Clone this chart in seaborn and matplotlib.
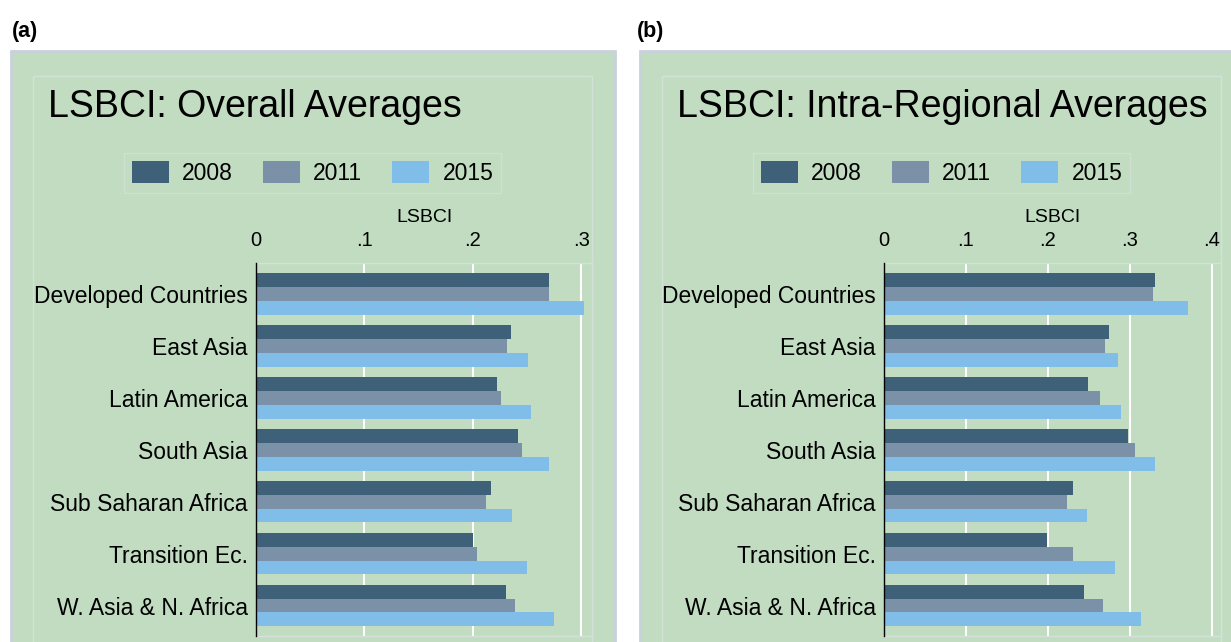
import pandas as pd
import matplotlib
matplotlib.use('Agg')
import matplotlib.pyplot as plt
from matplotlib.patches import Rectangle
import seaborn as sns

regions = ['Developed Countries', 'East Asia', 'Latin America', 'South Asia',
           'Sub Saharan Africa', 'Transition Ec.', 'W. Asia & N. Africa']
years = ['2008', '2011', '2015']

overall_2008 = [0.270, 0.235, 0.222, 0.242, 0.217, 0.200, 0.231]
overall_2011 = [0.270, 0.232, 0.226, 0.245, 0.212, 0.204, 0.239]
overall_2015 = [0.303, 0.251, 0.254, 0.270, 0.236, 0.250, 0.275]

intra_2008 = [0.331, 0.275, 0.249, 0.297, 0.231, 0.199, 0.244]
intra_2011 = [0.328, 0.270, 0.263, 0.306, 0.223, 0.231, 0.267]
intra_2015 = [0.371, 0.285, 0.289, 0.330, 0.248, 0.282, 0.314]

xticks_a = [0, 0.1, 0.2, 0.3]
xticks_b = [0, 0.1, 0.2, 0.3, 0.4]
xtick_labels_a = ['0', '.1', '.2', '.3']
xtick_labels_b = ['0', '.1', '.2', '.3', '.4']

colori = ['#3e6179', '#7b91a8', '#80bde9']
verde = '#c1dcc1'
bordo = '#c8d1dc'
linea_chiara = '#d3e2d8'

plt.rcParams['font.family'] = ['Liberation Sans Narrow', 'Liberation Sans', 'DejaVu Sans']

W, H = 1231, 642
fig = plt.figure(figsize=(W / 100, H / 100), dpi=100)


def px_box(x0, y0, x1, y1):
    # pixel coords (top-left origin) -> figure fraction rect
    return [x0 / W, 1 - y1 / H, (x1 - x0) / W, (y1 - y0) / H]


def rettangolo(x0, y0, x1, y1, fc, ec, lw):
    l, b, w, h = px_box(x0, y0, x1, y1)
    fig.patches.append(Rectangle((l, b), w, h, transform=fig.transFigure,
                                 facecolor=fc, edgecolor=ec, linewidth=lw, zorder=-10))


def lungo(v08, v11, v15):
    righe = []
    for anno, valori in zip(years, [v08, v11, v15]):
        for reg, v in zip(regions, valori):
            righe.append({'region': reg, 'year': anno, 'LSBCI': v})
    return pd.DataFrame(righe)


pannelli = [
    dict(lettera='(a)', lx=12, gx0=11, gx1=615, ix0=33, ix1=592, ax0=256, ax1=592,
         titolo='LSBCI: Overall Averages', xmax=0.310, ticks=xticks_a, tl=xtick_labels_a,
         df=lungo(overall_2008, overall_2011, overall_2015)),
    dict(lettera='(b)', lx=637, gx0=640, gx1=1233, ix0=662, ix1=1221, ax0=884, ax1=1221,
         titolo='LSBCI: Intra-Regional Averages', xmax=0.411, ticks=xticks_b, tl=xtick_labels_b,
         df=lungo(intra_2008, intra_2011, intra_2015)),
]

for p in pannelli:
    rettangolo(p['gx0'], 51, p['gx1'], H + 5, verde, bordo, 2.0)
    rettangolo(p['ix0'], 76, p['ix1'], H + 5, 'none', linea_chiara, 1.0)

    fig.text(p['lx'] / W, 1 - 31 / H, p['lettera'], fontsize=15.5, fontweight='bold',
             family=['Liberation Sans', 'DejaVu Sans'], va='center', ha='left')
    fig.text((p['ix0'] + 15) / W, 1 - 107 / H, p['titolo'], fontsize=27,
             va='center', ha='left')

    ax = fig.add_axes(px_box(p['ax0'], 263, p['ax1'], 636))
    ax.set_zorder(2)
    sns.barplot(data=p['df'], x='LSBCI', y='region', hue='year', orient='h',
                palette=colori, saturation=1, width=0.8, linewidth=0, ax=ax, errorbar=None)
    ax.set_facecolor(verde)
    ax.set_xlim(0, p['xmax'])
    ax.set_ylim(6.587, -0.597)
    ax.xaxis.tick_top()
    ax.xaxis.set_label_position('top')
    ax.set_xticks(p['ticks'])
    ax.set_xticklabels(p['tl'])
    ax.tick_params(axis='x', length=0, pad=9, labelsize=14.5)
    ax.tick_params(axis='y', length=0, pad=6, labelsize=16.5)
    ax.set_xlabel('LSBCI', fontsize=14, labelpad=7)
    ax.set_ylabel('')
    ax.grid(axis='x', color='white', linewidth=1.5, zorder=0)
    ax.grid(axis='y', visible=False)
    ax.set_axisbelow(True)
    for nome in ['top', 'right', 'bottom']:
        ax.spines[nome].set_color(linea_chiara)
        ax.spines[nome].set_linewidth(1.0)
    ax.spines['left'].set_color('black')
    ax.spines['left'].set_linewidth(1.0)
    ax.spines['left'].set_zorder(5)
    ax.get_legend().remove()

    maniglie = [Rectangle((0, 0), 1, 1, facecolor=c, edgecolor='none') for c in colori]
    centro = (p['ix0'] + p['ix1']) / 2
    leg = fig.legend(maniglie, years, loc='center', ncol=3,
                     bbox_to_anchor=(centro / W, 1 - 173 / H), fontsize=16.5,
                     frameon=True, fancybox=False, facecolor=verde, edgecolor=linea_chiara,
                     handlelength=1.62, handleheight=1.1, handletextpad=0.58,
                     columnspacing=1.3, borderpad=0.35)
    leg.get_frame().set_linewidth(1.0)

fig.savefig('out.png', dpi=100, facecolor='white')
